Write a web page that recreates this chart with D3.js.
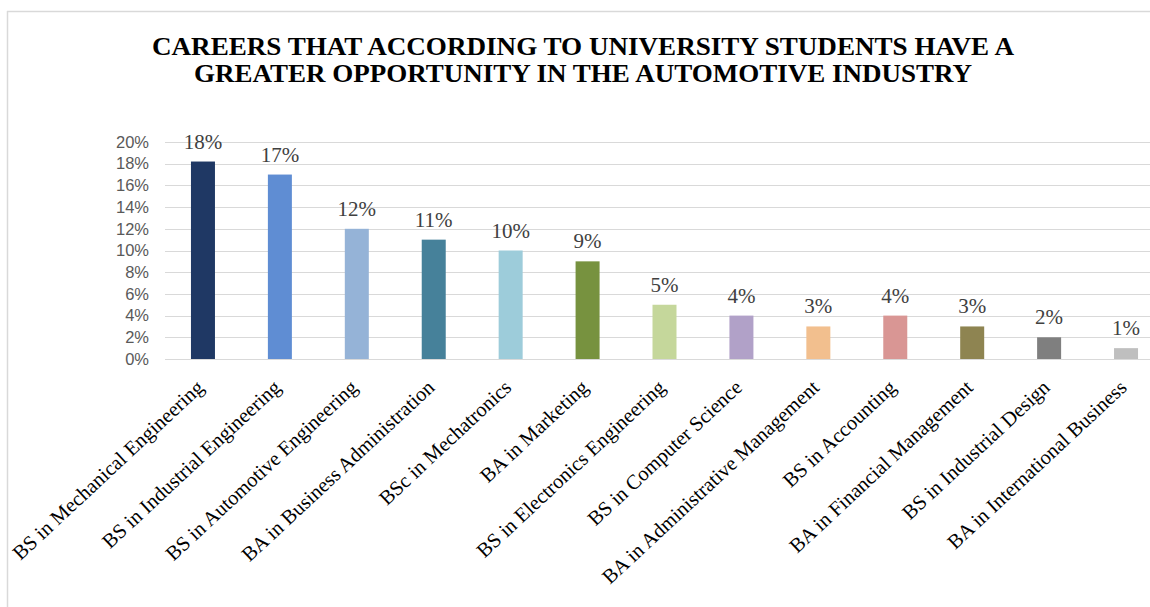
<!DOCTYPE html>
<html>
<head>
<meta charset="utf-8">
<script src="https://cdn.jsdelivr.net/npm/d3@7"></script>
<style>
html,body{margin:0;padding:0;background:#fff;}
svg{display:block;}
</style>
</head>
<body>
<svg id="chart" width="1150" height="607"></svg>
<script>
const titleLines = ["CAREERS THAT ACCORDING TO UNIVERSITY STUDENTS HAVE A", "GREATER OPPORTUNITY IN THE AUTOMOTIVE INDUSTRY"];
const categories = ["BS in Mechanical Engineering","BS in Industrial Engineering","BS in Automotive Engineering","BA in Business Administration","BSc in Mechatronics","BA in Marketing","BS in Electronics Engineering","BS in Computer Science","BA in Administrative Management","BS in Accounting","BA in Financial Management","BS in Industrial Design","BA in International Business"];
const values = [0.182,0.17,0.12,0.11,0.10,0.09,0.05,0.04,0.03,0.04,0.03,0.02,0.01];
const valueLabels = ["18%","17%","12%","11%","10%","9%","5%","4%","3%","4%","3%","2%","1%"];
const colors = ["#1F3864","#5F8DD3","#95B3D7","#46819A","#9DCCDA","#77923F","#C5D79B","#B1A1C8","#F2BF8E","#D99694","#8E8451","#7F7F7F","#BFBFBF"];
const yTicks = [0,0.02,0.04,0.06,0.08,0.10,0.12,0.14,0.16,0.18,0.20];

const svg = d3.select("#chart");

// frame
svg.append("line").attr("x1",7).attr("x2",1150).attr("y1",11.5).attr("y2",11.5).attr("stroke","#d9d9d9").attr("stroke-width",1.5);
svg.append("line").attr("x1",7.5).attr("x2",7.5).attr("y1",11).attr("y2",607).attr("stroke","#d9d9d9").attr("stroke-width",1.5);

// title
const tl = [{t:titleLines[0],y:54.5,w:862},{t:titleLines[1],y:82,w:778}];
svg.selectAll("text.title").data(tl).join("text").attr("class","title")
  .attr("x",583).attr("y",d=>d.y).attr("text-anchor","middle")
  .attr("font-family","'Liberation Serif','Times New Roman',serif").attr("font-weight","bold")
  .attr("font-size",24.5).attr("fill","#000")
  .attr("textLength",d=>d.w).attr("lengthAdjust","spacingAndGlyphs")
  .text(d=>d.t);

const x = d3.scaleBand().domain(categories).range([164.5,1164.5]).paddingInner(0.688).paddingOuter(0.344);
const y = d3.scaleLinear().domain([0,0.2]).range([359,142]);

// grid
svg.append("g").selectAll("line").data(yTicks).join("line")
  .attr("x1",165).attr("x2",1150)
  .attr("y1",d=>Math.round(y(d))+0.5).attr("y2",d=>Math.round(y(d))+0.5)
  .attr("stroke","#d9d9d9").attr("stroke-width",1);

// y axis labels
const yAxis = d3.axisLeft(y).tickValues(yTicks).tickFormat(d3.format(".0%")).tickSize(0).tickPadding(0);
const ga = svg.append("g").attr("transform","translate(149,0)").call(yAxis);
ga.select(".domain").remove();
ga.selectAll("text").attr("font-family","'Liberation Sans',Arial,sans-serif").attr("font-size",16.5).attr("fill","#595959");

// bars
const data = categories.map((c,i)=>({c,v:values[i],l:valueLabels[i],col:colors[i]}));
const bw = 24;
svg.append("g").selectAll("rect").data(data).join("rect")
  .attr("x",d=>x(d.c)+x.bandwidth()/2-bw/2).attr("width",bw)
  .attr("y",d=>y(d.v)).attr("height",d=>y(0)-y(d.v))
  .attr("fill",d=>d.col);

// value labels
svg.append("g").selectAll("text").data(data).join("text")
  .attr("x",d=>x(d.c)+x.bandwidth()/2).attr("y",d=>y(d.v)-13)
  .attr("text-anchor","middle")
  .attr("font-family","'Liberation Serif','Times New Roman',serif").attr("font-size",21)
  .attr("fill","#404040").text(d=>d.l);

// category labels
svg.append("g").selectAll("text").data(data).join("text")
  .attr("transform",d=>`translate(${x(d.c)+x.bandwidth()/2+2},${389}) rotate(-43)`)
  .attr("text-anchor","end")
  .attr("font-family","'Liberation Serif','Times New Roman',serif").attr("font-size",20.5)
  .attr("fill","#000").text(d=>d.c);
</script>
</body>
</html>
